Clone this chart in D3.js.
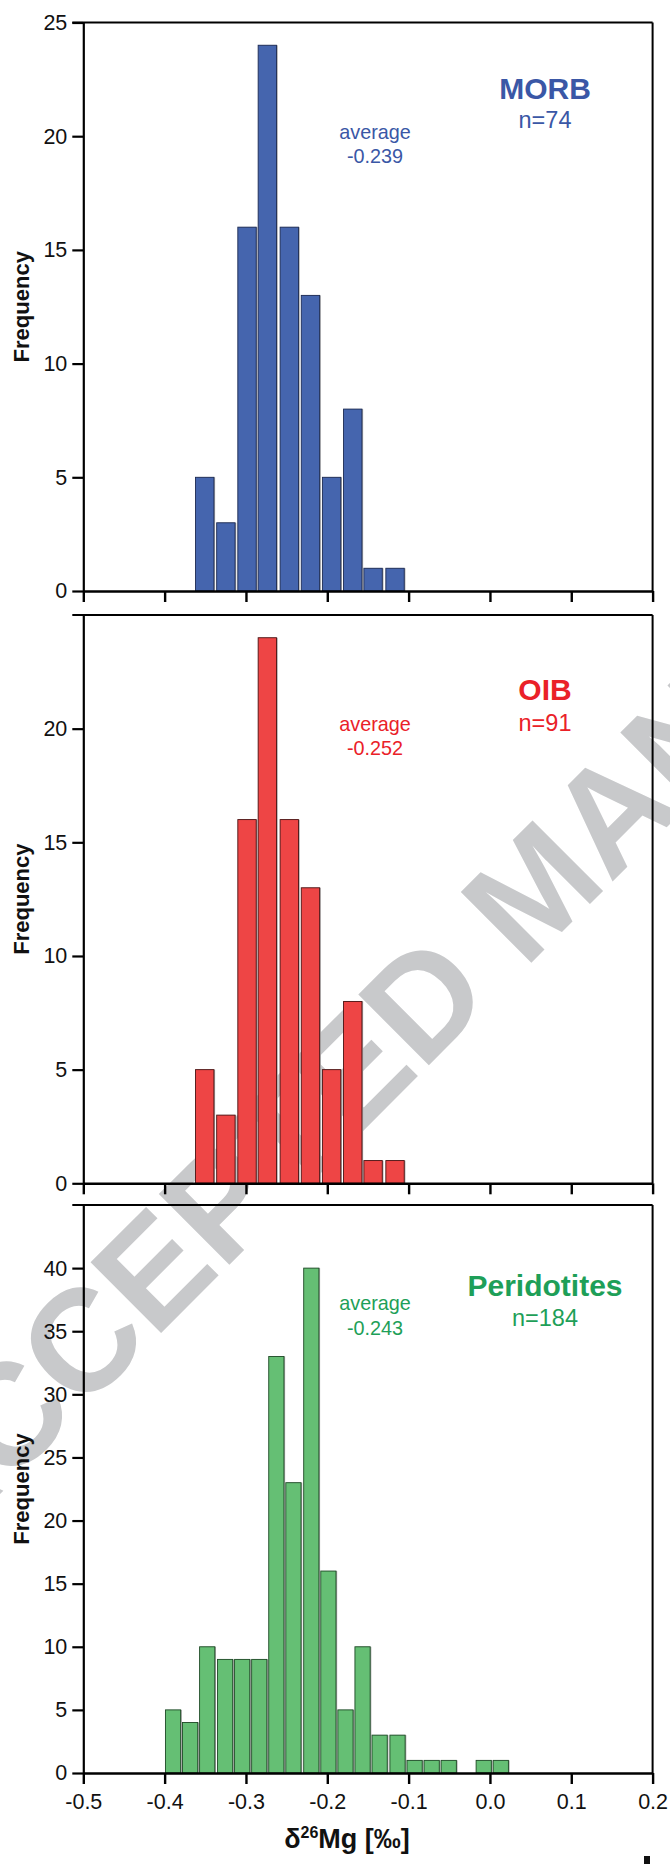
<!DOCTYPE html>
<html><head><meta charset="utf-8">
<script src="https://cdn.jsdelivr.net/npm/d3@7"></script>
<style>
body{margin:0;background:#fff}
svg{display:block}
text{font-family:"Liberation Sans",Arial,Helvetica,sans-serif}
</style>
</head><body>
<svg id="chart" width="670" height="1864"></svg>
<script>
// ---------------- data ----------------
const xTickValues = [-0.5, -0.4, -0.3, -0.2, -0.1, 0.0, 0.1, 0.2];

const morbBinLeft = [-0.362, -0.336, -0.310, -0.285, -0.258, -0.232, -0.206, -0.180, -0.155, -0.128];
const morbCounts  = [5, 3, 16, 24, 16, 13, 5, 8, 1, 1];

const oibBinLeft  = [-0.362, -0.336, -0.310, -0.285, -0.258, -0.232, -0.206, -0.180, -0.155, -0.128];
const oibCounts   = [5, 3, 16, 24, 16, 13, 5, 8, 1, 1];

const peridBinLeft = [-0.399, -0.378, -0.357, -0.335, -0.314, -0.293, -0.272, -0.251, -0.229, -0.208,
                      -0.187, -0.166, -0.145, -0.123, -0.102, -0.081, -0.060, -0.038, -0.017, 0.004];
const peridCounts  = [5, 4, 10, 9, 9, 9, 33, 23, 40, 16, 5, 10, 3, 3, 1, 1, 1, 0, 1, 1];

const morbBinWidth  = 0.0226;
const peridBinWidth = 0.0187;

const groupNames    = ["MORB", "OIB", "Peridotites"];
const groupN        = ["n=74", "n=91", "n=184"];
const groupAverage  = ["-0.239", "-0.252", "-0.243"];
const yMaxValues    = [25, 25, 45];
const yTicksMorb    = [0, 5, 10, 15, 20, 25];
const yTicksOib     = [0, 5, 10, 15, 20];
const yTicksPerid   = [0, 5, 10, 15, 20, 25, 30, 35, 40];

const yAxisTitle = "Frequency";
const watermarkText = "ACCEPTED MANUSCRIPT";

// ---------------- layout / style ----------------
const left = 83.3, right = 652.6;
const panels = [
  {binLeft: morbBinLeft, counts: morbCounts, bw: morbBinWidth, ticks: yTicksMorb, yMax: yMaxValues[0],
   top: 22.5, bottom: 591, fill: "#4565ae", stroke: "#1c2a52", text: "#3a57a6",
   nameY: 98.5, nY: 128, avgY: 139, avgValY: 163},
  {binLeft: oibBinLeft, counts: oibCounts, bw: morbBinWidth, ticks: yTicksOib, yMax: yMaxValues[1],
   top: 615, bottom: 1183.3, fill: "#ee4545", stroke: "#4a1212", text: "#ea2128",
   nameY: 699.5, nY: 730.5, avgY: 731, avgValY: 755},
  {binLeft: peridBinLeft, counts: peridCounts, bw: peridBinWidth, ticks: yTicksPerid, yMax: yMaxValues[2],
   top: 1205, bottom: 1773, fill: "#65bf74", stroke: "#1e4a26", text: "#1e9f58",
   nameY: 1296, nY: 1326, avgY: 1310, avgValY: 1335}
];

const svg = d3.select("#chart");
svg.append("rect").attr("width", 670).attr("height", 1864).attr("fill", "#fff");

const x = d3.scaleLinear().domain([-0.5, 0.2]).range([left, right]);

// watermark (behind everything)
svg.append("text")
  .attr("transform", "translate(570,924) rotate(-45)")
  .attr("text-anchor", "middle")
  .attr("font-size", 145)
  .attr("font-weight", "bold")
  .attr("fill", "#c8c9cb")
  .text(watermarkText);

panels.forEach((p, i) => {
  const g = svg.append("g");
  const y = d3.scaleLinear().domain([0, p.yMax]).range([p.bottom, p.top]);
  const data = p.counts.map((c, k) => ({x0: p.binLeft[k], c}));

  // bar shadows
  g.selectAll("rect.sh").data(data.filter(d => d.c > 0)).join("rect")
    .attr("class", "sh")
    .attr("x", d => x(d.x0) + 1.2)
    .attr("y", d => y(d.c))
    .attr("width", d => x(d.x0 + p.bw) - x(d.x0))
    .attr("height", d => y(0) - y(d.c))
    .attr("fill", "#a8a8a8");
  // bars
  g.selectAll("rect.bar").data(data.filter(d => d.c > 0)).join("rect")
    .attr("class", "bar")
    .attr("x", d => x(d.x0))
    .attr("y", d => y(d.c))
    .attr("width", d => x(d.x0 + p.bw) - x(d.x0))
    .attr("height", d => y(0) - y(d.c))
    .attr("fill", p.fill)
    .attr("stroke", p.stroke)
    .attr("stroke-width", 0.9);

  // frame: top & right
  g.append("line").attr("x1", left - 11).attr("x2", right).attr("y1", p.top).attr("y2", p.top)
    .attr("stroke", "#000").attr("stroke-width", 2);
  g.append("line").attr("x1", right).attr("x2", right).attr("y1", p.top).attr("y2", p.bottom)
    .attr("stroke", "#000").attr("stroke-width", 2);

  // y axis
  const ya = g.append("g").attr("transform", `translate(${left},0)`)
    .call(d3.axisLeft(y).tickValues(p.ticks).tickSize(11).tickSizeOuter(0).tickPadding(5).tickFormat(d => String(d)));
  ya.select(".domain").attr("stroke-width", 2.2);
  ya.selectAll(".tick line").attr("stroke-width", 2.2);
  ya.selectAll(".tick text").attr("font-size", 21.5).attr("fill", "#111").attr("font-family", null);

  // x axis
  const xa = g.append("g").attr("transform", `translate(0,${p.bottom})`)
    .call(d3.axisBottom(x).tickValues(xTickValues).tickSize(11).tickSizeOuter(0).tickPadding(10)
      .tickFormat(d => i === 2 ? d.toFixed(1) : ""));
  xa.select(".domain").attr("stroke-width", 2.6);
  xa.selectAll(".tick line").attr("stroke-width", 2.4);
  xa.selectAll(".tick text").attr("font-size", 21.5).attr("fill", "#111").attr("font-family", null);

  // y title
  g.append("text")
    .attr("transform", `translate(28.5,${(p.top + p.bottom) / 2}) rotate(-90)`)
    .attr("text-anchor", "middle").attr("font-weight", "bold").attr("font-size", 22)
    .attr("fill", "#111").text(yAxisTitle);

  // group labels
  g.append("text").attr("x", 545).attr("y", p.nameY).attr("text-anchor", "middle")
    .attr("font-weight", "bold").attr("font-size", 30).attr("fill", p.text).text(groupNames[i]);
  g.append("text").attr("x", 545).attr("y", p.nY).attr("text-anchor", "middle")
    .attr("font-size", 23.5).attr("fill", p.text).text(groupN[i]);
  g.append("text").attr("x", 375).attr("y", p.avgY).attr("text-anchor", "middle")
    .attr("font-size", 19.8).attr("fill", p.text).text("average");
  g.append("text").attr("x", 375).attr("y", p.avgValY).attr("text-anchor", "middle")
    .attr("font-size", 19.8).attr("fill", p.text).text(groupAverage[i]);
});

// x-axis title
const xt = svg.append("text").attr("x", 347).attr("y", 1848).attr("text-anchor", "middle")
  .attr("font-weight", "bold").attr("font-size", 27).attr("fill", "#111");
xt.append("tspan").text("δ");
xt.append("tspan").attr("font-size", 16).attr("dy", -10).text("26");
xt.append("tspan").attr("dy", 10).text("Mg [‰]");

// fragment of cut-off glyph at bottom-right edge
svg.append("rect").attr("x", 644).attr("y", 1856).attr("width", 6).attr("height", 8).attr("fill", "#111");
</script>
</body></html>
